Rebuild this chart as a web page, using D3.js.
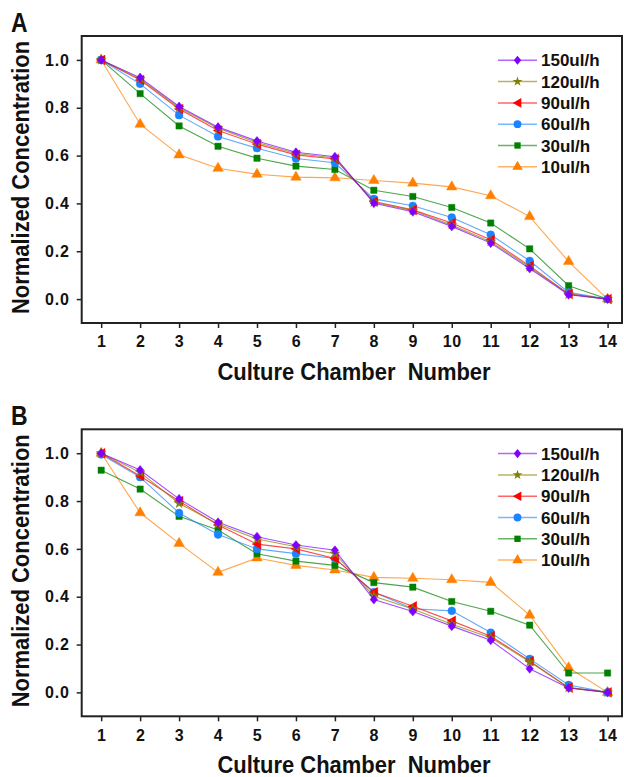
<!DOCTYPE html>
<html>
<head>
<meta charset="utf-8">
<script src="https://cdn.jsdelivr.net/npm/d3@7"></script>
<style>
  body { margin: 0; background: #fff; }
  text { font-family: "Liberation Sans", Arial, sans-serif; font-weight: bold; fill: #111; }
</style>
</head>
<body>
<svg width="624" height="777"></svg>
<script>
// chamber numbers on the x axis
var chambers = [1, 2, 3, 4, 5, 6, 7, 8, 9, 10, 11, 12, 13, 14];
var yTicks = [0.0, 0.2, 0.4, 0.6, 0.8, 1.0];
var flowRates = ["150ul/h", "120ul/h", "90ul/h", "60ul/h", "30ul/h", "10ul/h"];

// panel A values
var a150 = [1.0, 0.926, 0.805, 0.719, 0.661, 0.614, 0.595, 0.401, 0.365, 0.304, 0.234, 0.128, 0.018, 0.0];
var a120 = [1.0, 0.921, 0.800, 0.714, 0.655, 0.609, 0.590, 0.405, 0.370, 0.310, 0.240, 0.134, 0.020, 0.0];
var a90  = [1.0, 0.916, 0.795, 0.705, 0.648, 0.603, 0.586, 0.408, 0.373, 0.318, 0.248, 0.139, 0.022, 0.0];
var a60  = [1.0, 0.900, 0.769, 0.680, 0.631, 0.588, 0.570, 0.419, 0.390, 0.341, 0.269, 0.160, 0.028, 0.0];
var a30  = [1.0, 0.859, 0.724, 0.639, 0.589, 0.556, 0.542, 0.455, 0.429, 0.383, 0.318, 0.210, 0.056, 0.0];
var a10  = [1.0, 0.731, 0.603, 0.547, 0.522, 0.510, 0.507, 0.496, 0.485, 0.469, 0.432, 0.345, 0.157, 0.0];

// panel B values
var b150 = [1.0, 0.930, 0.809, 0.711, 0.651, 0.616, 0.594, 0.388, 0.338, 0.277, 0.218, 0.099, 0.018, 0.0];
var b120 = [1.0, 0.920, 0.790, 0.704, 0.641, 0.609, 0.580, 0.402, 0.349, 0.285, 0.228, 0.128, 0.020, 0.0];
var b90  = [1.0, 0.905, 0.800, 0.700, 0.620, 0.600, 0.560, 0.419, 0.360, 0.299, 0.235, 0.131, 0.020, 0.0];
var b60  = [0.995, 0.900, 0.750, 0.660, 0.600, 0.580, 0.560, 0.419, 0.350, 0.341, 0.250, 0.140, 0.031, 0.0];
var b30  = [0.929, 0.850, 0.736, 0.679, 0.580, 0.549, 0.531, 0.459, 0.440, 0.380, 0.339, 0.281, 0.081, 0.081];
var b10  = [1.0, 0.751, 0.623, 0.502, 0.562, 0.531, 0.512, 0.481, 0.477, 0.471, 0.460, 0.323, 0.103, 0.0];

var colors = ["#8000ff", "#808000", "#ff0000", "#1a85ff", "#008000", "#ff8000"];

// left pointing triangle
var leftTriangle = {
  draw: function(ctx, size) {
    var r = Math.sqrt(size / 1.3);
    ctx.moveTo(-r, 0);
    ctx.lineTo(r * 0.8, -r);
    ctx.lineTo(r * 0.8, r);
    ctx.closePath();
  }
};
// squarer diamond than d3's
var fatDiamond = {
  draw: function(ctx, size) {
    var r = Math.sqrt(size / 2);
    ctx.moveTo(0, -r * 1.1);
    ctx.lineTo(r * 0.9, 0);
    ctx.lineTo(0, r * 1.1);
    ctx.lineTo(-r * 0.9, 0);
    ctx.closePath();
  }
};
var shapes = [
  d3.symbol().type(fatDiamond).size(34),
  d3.symbol().type(d3.symbolStar).size(30),
  d3.symbol().type(leftTriangle).size(30),
  d3.symbol().type(d3.symbolCircle).size(48),
  d3.symbol().type(d3.symbolSquare).size(40),
  d3.symbol().type(d3.symbolTriangle).size(48)
];

var svg = d3.select("svg");

var x = d3.scaleLinear().domain([0.5, 14.37]).range([81.7, 622]);

function drawPanel(top, letter, series) {
  var y = d3.scaleLinear().domain([-0.1, 1.1]).range([top + 287, top]);
  var g = svg.append("g");

  g.append("text")
   .attr("transform", "translate(11," + (top - 4) + ") scale(0.85,1)")
   .style("font-size", "27px")
   .text(letter);

  // x axis
  var xa = g.append("g")
     .attr("transform", "translate(0," + (top + 287) + ")")
     .call(d3.axisBottom(x).tickValues(chambers).tickSize(5).tickSizeOuter(0).tickPadding(8));
  xa.select(".domain").remove();
  xa.selectAll("line").attr("stroke", "#222").attr("stroke-width", 1.5);
  xa.selectAll("text").style("font-size", "16px").style("letter-spacing", "0.6px").attr("fill", "#111");

  // y axis
  var ya = g.append("g")
     .attr("transform", "translate(81.7,0)")
     .call(d3.axisLeft(y).tickValues(yTicks).tickFormat(d3.format(".1f")).tickSize(5).tickSizeOuter(0).tickPadding(7));
  ya.select(".domain").remove();
  ya.selectAll("line").attr("stroke", "#222").attr("stroke-width", 1.5);
  ya.selectAll("text").style("font-size", "16px").style("letter-spacing", "0.8px").attr("fill", "#111");

  // frame
  g.append("rect")
   .attr("x", 81.7)
   .attr("y", top)
   .attr("width", 622 - 81.7)
   .attr("height", 287)
   .attr("fill", "none")
   .attr("stroke", "#222")
   .attr("stroke-width", 2);

  g.append("text")
   .attr("transform", "translate(354," + (top + 344) + ") scale(0.955,1)")
   .attr("text-anchor", "middle")
   .style("font-size", "23px")
   .style("white-space", "pre")
   .text("Culture Chamber  Number");

  g.append("text")
   .attr("transform", "translate(29," + (top + 141.5) + ") rotate(-90) scale(0.955,1)")
   .attr("text-anchor", "middle")
   .style("font-size", "23px")
   .text("Normalized Concentration");

  var line = d3.line()
     .x(function(d, i) { return x(chambers[i]); })
     .y(function(d) { return y(d); });

  // draw in reverse so 150ul/h stays on top
  for (var k = series.length - 1; k >= 0; k--) {
    g.append("path")
     .datum(series[k])
     .attr("d", line)
     .attr("fill", "none")
     .attr("stroke", colors[k])
     .attr("stroke-opacity", 0.7)
     .attr("stroke-width", 1.1);

    g.selectAll(".pt" + k)
     .data(series[k])
     .enter().append("path")
     .attr("class", "pt" + k)
     .attr("transform", function(d, i) { return "translate(" + x(chambers[i]) + "," + y(d) + ")"; })
     .attr("d", shapes[k])
     .attr("fill", colors[k])
     .attr("stroke", colors[k])
     .attr("stroke-opacity", 0.45)
     .attr("stroke-width", 1);
  }

  // legend
  var leg = g.append("g").attr("transform", "translate(498," + (top + 24.3) + ")");
  flowRates.forEach(function(name, k) {
    var row = leg.append("g").attr("transform", "translate(0," + (k * 21.3) + ")");
    row.append("line")
       .attr("x1", 0).attr("x2", 39)
       .attr("stroke", colors[k])
       .attr("stroke-opacity", 0.6)
       .attr("stroke-width", 1.5);
    row.append("path")
       .attr("transform", "translate(19.5,0)")
       .attr("d", shapes[k])
       .attr("fill", colors[k]);
    row.append("text")
       .attr("x", 43)
       .attr("y", 6)
       .style("font-size", "17px")
       .text(name);
  });
}

drawPanel(36, "A", [a150, a120, a90, a60, a30, a10]);
drawPanel(429.3, "B", [b150, b120, b90, b60, b30, b10]);
</script>
</body>
</html>
